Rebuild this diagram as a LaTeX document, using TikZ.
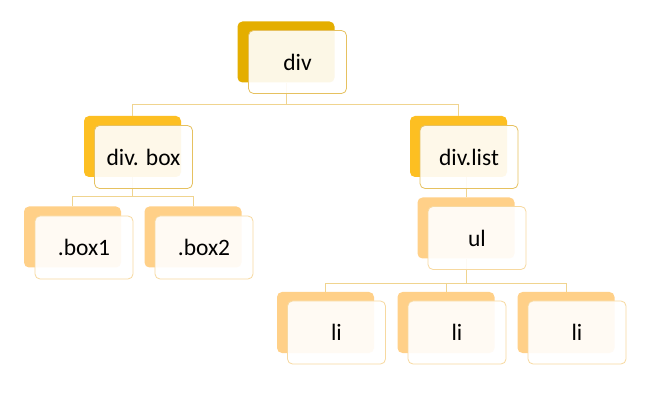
\documentclass[tikz,border=0pt]{standalone}
\usepackage{fontspec}
\setmainfont{Carlito}
\definecolor{gold1}{HTML}{E4AE00}
\definecolor{gold2}{HTML}{FDBF22}
\definecolor{gold3}{HTML}{FFD088}
\definecolor{edge1}{HTML}{E6C160}
\definecolor{edge3}{HTML}{F7D9A0}
\definecolor{conncol}{HTML}{F0D48F}
\begin{document}
\begin{tikzpicture}[x=1pt,y=-1pt,
  backbox/.style={rectangle,rounded corners=5pt,minimum width=97pt,minimum height=61pt,inner sep=0pt,draw=none},
  frontbox/.style={rectangle,rounded corners=5pt,minimum width=98pt,minimum height=63pt,inner sep=0pt,
    fill=white,fill opacity=0.9,text opacity=1,line width=0.8pt,
    font=\fontsize{23.5}{28}\selectfont},
  conn/.style={draw=conncol,line width=0.8pt}]
\useasboundingbox (0,0) rectangle (657,409);
\fill[white] (0,0) rectangle (657,409);
\coordinate (bus1) at (0,104);
\coordinate (bus2) at (0,196);
\coordinate (bus3) at (0,283);
% back boxes
\node[backbox,fill=gold1] (bdiv) at (286,52) {};
\node[backbox,fill=gold2] (bbox) at (132.5,146.5) {};
\node[backbox,fill=gold2] (blist) at (458.5,146.5) {};
\node[backbox,fill=gold3] (bul) at (466,228) {};
\node[backbox,fill=gold3] (bbox1) at (72.5,237) {};
\node[backbox,fill=gold3] (bbox2) at (193,237) {};
\node[backbox,fill=gold3] (bli1) at (325.5,322.5) {};
\node[backbox,fill=gold3] (bli2) at (446,322.5) {};
\node[backbox,fill=gold3] (bli3) at (566,322.5) {};
% connectors
\draw[conn] (bdiv.south) -- (bdiv.south |- bus1) -| (bbox.north);
\draw[conn] (bdiv.south |- bus1) -| (blist.north);
\draw[conn] (bbox.south) -- (bbox.south |- bus2) -| (bbox1.north);
\draw[conn] (bbox.south |- bus2) -| (bbox2.north);
\draw[conn] (bul.south |- blist.south) -- (bul.north);
\draw[conn] (bul.south) -- (bul.south |- bus3) -| (bli1.north);
\draw[conn] (bul.south |- bus3) -| (bli2.north);
\draw[conn] (bul.south |- bus3) -| (bli3.north);
% front boxes
\node[frontbox,draw=edge1] (fdiv) at (297.5,62) {div};
\node[frontbox,draw=edge1] (fbox) at (143.5,157) {div. box};
\node[frontbox,draw=edge1] (flist) at (469,157) {div.list};
\node[frontbox,draw=edge3] (ful) at (477,238) {ul};
\node[frontbox,draw=edge3] (fbox1) at (84,247.5) {.box1};
\node[frontbox,draw=edge3] (fbox2) at (204,247.5) {.box2};
\node[frontbox,draw=edge3] (fli1) at (336.5,332.5) {li};
\node[frontbox,draw=edge3] (fli2) at (457,332.5) {li};
\node[frontbox,draw=edge3] (fli3) at (577,332.5) {li};
\end{tikzpicture}
\end{document}
